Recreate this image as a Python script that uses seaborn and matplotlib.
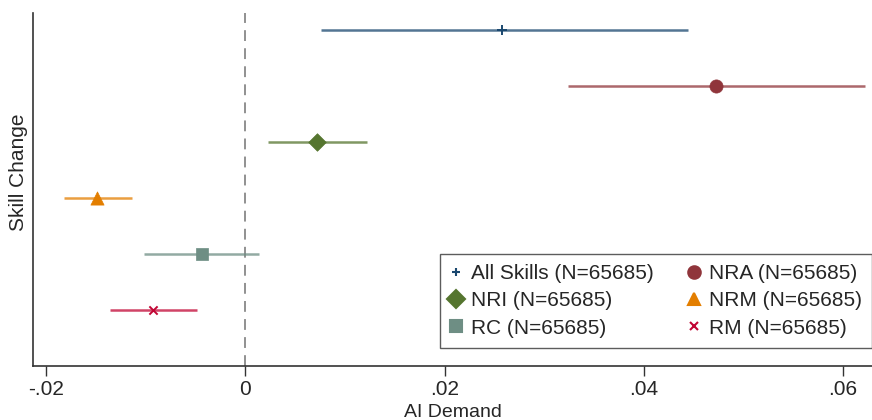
import matplotlib
matplotlib.use("Agg")
import matplotlib.pyplot as plt
import seaborn as sns
import pandas as pd
from matplotlib.lines import Line2D

labels = ["All Skills (N=65685)", "NRA (N=65685)", "NRI (N=65685)",
          "NRM (N=65685)", "RC (N=65685)", "RM (N=65685)"]
coef = [0.0258, 0.0472, 0.0072, -0.0149, -0.0044, -0.0093]
ci_low = [0.0076, 0.0324, 0.0023, -0.0182, -0.0102, -0.0136]
ci_high = [0.0444, 0.0622, 0.0122, -0.0114, 0.0014, -0.0049]
xticks = [-0.02, 0, 0.02, 0.04, 0.06]
xticklabels = ["-.02", "0", ".02", ".04", ".06"]

colors = ["#1a476f", "#90353b", "#55752f", "#e37e00", "#6e8e84", "#c10534"]
markers = ["+", "o", "D", "^", "s", "x"]
sizes = [60, 90, 80, 90, 80, 35]

df = pd.DataFrame({"label": labels, "coef": coef, "lo": ci_low, "hi": ci_high,
                   "pos": list(range(1, len(labels) + 1))})

sns.set_theme(style="white")
plt.rcParams["font.family"] = ["Liberation Sans", "DejaVu Sans"]

fig = plt.figure(figsize=(8.72, 4.2), dpi=100)
ax = fig.add_axes([0.038, 0.129, 0.962, 0.84])

ax.axvline(0, color="#888888", linestyle=(0, (6, 4)), linewidth=1.3, zorder=1)

for i, row in df.iterrows():
    ax.hlines(row["pos"], row["lo"], row["hi"], color=colors[i], alpha=0.75,
              linewidth=1.8, zorder=2)
    sub = df.iloc[[i]]
    if markers[i] in ("+", "x"):
        sns.scatterplot(data=sub, x="coef", y="pos", color=colors[i],
                        marker=markers[i], s=sizes[i], linewidth=1.4,
                        legend=False, ax=ax, zorder=3)
    else:
        sns.scatterplot(data=sub, x="coef", y="pos", color=colors[i],
                        marker=markers[i], s=sizes[i], edgecolor=colors[i],
                        linewidth=0.5, legend=False, ax=ax, zorder=3)

ax.set_xlim(-0.0213, 0.0629)
ax.set_ylim(7, 0.7)
ax.set_yticks([])
ax.set_xticks(xticks)
ax.set_xticklabels(xticklabels, fontsize=15)
ax.tick_params(axis="x", direction="out", length=7, width=1, color="#333333",
               bottom=True, pad=3)
ax.set_xlabel("AI Demand", fontsize=14)
ax.xaxis.set_label_coords(0.5, -0.108)
ax.set_ylabel("Skill Change", fontsize=15)
ax.yaxis.set_label_coords(-0.006, 0.55)

for s in ["top", "right"]:
    ax.spines[s].set_visible(False)
for s in ["left", "bottom"]:
    ax.spines[s].set_color("#333333")
    ax.spines[s].set_linewidth(1.2)

handles = [Line2D([], [], linestyle="none", marker=markers[i], color=colors[i],
                  markersize=9 if markers[i] not in ("x", "+") else 6,
                  markeredgewidth=1.5) for i in range(len(labels))]
order = [0, 2, 4, 1, 3, 5]
leg = ax.legend([handles[i] for i in order], [labels[i] for i in order],
                ncol=2, loc="lower right", bbox_to_anchor=(1.0, 0.05),
                fontsize=15, frameon=True, fancybox=False, edgecolor="#333333",
                handlelength=0.5, handletextpad=0.45, columnspacing=1.7,
                labelspacing=0.4, borderpad=0.5, borderaxespad=0.0)
leg.get_frame().set_linewidth(1.0)

fig.savefig("out.png", dpi=100)
